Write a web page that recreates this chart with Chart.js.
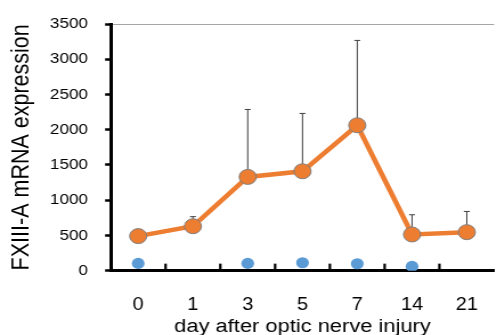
<!DOCTYPE html>
<html>
<head>
<meta charset="utf-8">
<script src="https://cdn.jsdelivr.net/npm/chart.js@4"></script>
<style>
  html, body { margin: 0; padding: 0; background: #fff; overflow: hidden; }
  #wrap { width: 504px; height: 335px; overflow: hidden; }
  /* the reference is stretched sideways, so draw narrower and widen it */
  #chart { transform: scaleX(1.14); transform-origin: 0 0; }
</style>
</head>
<body>
<div id="wrap"><canvas id="chart" width="442" height="335"></canvas></div>
<script>
const days = ['0', '1', '3', '5', '7', '14', '21'];
const injured = [490, 630, 1330, 1410, 2063, 513, 546];
const injuredErr = [0, 136, 957, 821, 1204, 280, 294];
const control = [103, null, 103, 112, 98, 60, null];
const yTicks = [0, 500, 1000, 1500, 2000, 2500, 3000, 3500];

// error bars, upward only, drawn under the markers
const errorBars = {
    id: 'errorBars',
    beforeDatasetsDraw(chart) {
        const ctx = chart.ctx;
        const x = chart.scales.x;
        const y = chart.scales.y;
        ctx.save();
        ctx.strokeStyle = '#404040';
        ctx.lineWidth = 1;
        injured.forEach((v, i) => {
            if (!injuredErr[i]) return;
            const px = x.getPixelForValue(i);
            const top = y.getPixelForValue(v + injuredErr[i]);
            const base = y.getPixelForValue(v);
            ctx.beginPath();
            ctx.moveTo(px, base);
            ctx.lineTo(px, top);
            ctx.moveTo(px - 2.6, top);
            ctx.lineTo(px + 2.6, top);
            ctx.stroke();
        });
        ctx.restore();
    }
};

// small inside ticks between the categories on the x axis
const innerTicks = {
    id: 'innerTicks',
    afterDraw(chart) {
        const ctx = chart.ctx;
        const x = chart.scales.x;
        const bottom = chart.chartArea.bottom;
        ctx.save();
        ctx.strokeStyle = '#000';
        ctx.lineWidth = 2.2;
        for (let i = 0; i < days.length - 1; i++) {
            const px = (x.getPixelForValue(i) + x.getPixelForValue(i + 1)) / 2;
            ctx.beginPath();
            ctx.moveTo(px, bottom);
            ctx.lineTo(px, bottom - 7);
            ctx.stroke();
        }
        ctx.restore();
    }
};

new Chart(document.getElementById('chart').getContext('2d'), {
    type: 'line',
    data: {
        labels: days,
        datasets: [
            {
                data: control,
                showLine: false,
                pointRadius: 5.6,
                pointBackgroundColor: '#5B9BD5',
                pointBorderColor: '#5B9BD5',
                pointBorderWidth: 0
            },
            {
                data: injured,
                borderColor: '#ED7D31',
                borderWidth: 4.5,
                pointRadius: 7.5,
                pointBackgroundColor: '#ED7D31',
                pointBorderColor: '#7F7F7F',
                pointBorderWidth: 1
            }
        ]
    },
    options: {
        responsive: false,
        animation: false,
        layout: { padding: { top: 11, right: 1, bottom: 1, left: 6 } },
        plugins: { legend: { display: false }, tooltip: { enabled: false } },
        scales: {
            x: {
                offset: true,
                // invisible tick marks just push the labels down
                grid: {
                    display: true,
                    drawOnChartArea: false,
                    drawTicks: true,
                    tickLength: 24,
                    tickColor: 'rgba(0,0,0,0)',
                    offset: true
                },
                border: { display: true, color: '#000', width: 3 },
                ticks: { color: '#000', padding: 0, font: { family: 'Liberation Sans', size: 17.5 } },
                title: {
                    display: true,
                    text: 'day after optic nerve injury',
                    color: '#000',
                    padding: { top: 3, bottom: 0 },
                    font: { family: 'Liberation Sans', size: 19.2, lineHeight: 0.8 }
                }
            },
            y: {
                min: 0,
                max: 3500,
                afterBuildTicks: axis => { axis.ticks = yTicks.map(v => ({ value: v })); },
                grid: {
                    drawOnChartArea: true,
                    tickLength: 5,
                    tickColor: '#000',
                    tickWidth: 2.5,
                    color: c => c.tick && c.tick.value === 3500 ? '#A6A6A6' : 'rgba(0,0,0,0)',
                    lineWidth: 1
                },
                border: { display: true, color: '#000', width: 3 },
                ticks: {
                    color: '#000',
                    padding: 15,
                    font: { family: 'Liberation Sans', size: 15 },
                    callback: v => String(v)
                },
                title: {
                    display: true,
                    text: 'FXIII-A mRNA expression',
                    color: '#000',
                    padding: { top: 0, bottom: -3 },
                    font: { family: 'Liberation Sans', size: 21.5 }
                }
            }
        }
    },
    plugins: [errorBars, innerTicks]
});
</script>
</body>
</html>
